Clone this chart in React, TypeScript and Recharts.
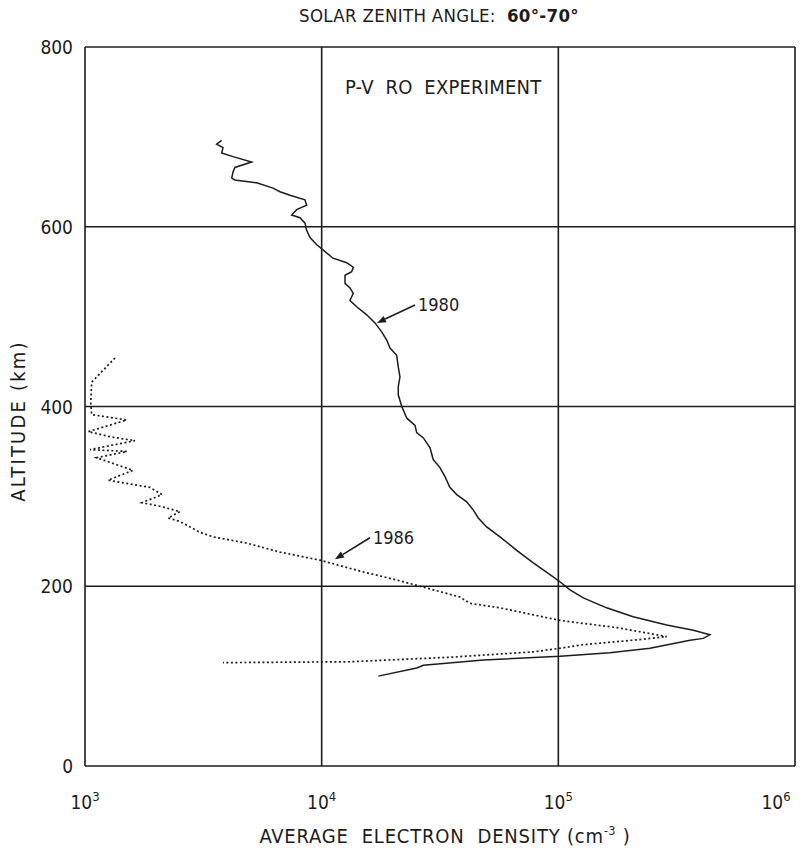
import React from 'react';
import { ScatterChart, Scatter, XAxis, YAxis, CartesianGrid, ReferenceLine } from 'recharts';

// 1980 profile: electron density (cm^-3) vs altitude (km)
const density1980 = [
  3780, 3600, 3830, 3780, 4220, 5060, 4300, 4220, 4170, 4300, 5310, 6230, 6670, 7350, 8500, 8640,
  7840, 7470, 8100, 8500, 8640, 8930, 9530, 10160, 11160, 12760, 13600, 13390, 12550, 12550, 13170,
  13600, 13170, 14060, 15500, 16800, 17930, 18830, 19440, 20750, 21070, 21420, 21070, 21070, 21800,
  22900, 24800, 25200, 26900, 28700, 29600, 31600, 33200, 34800, 37200, 41000, 43700, 45900, 49800,
  56700, 66700, 78400, 92200, 101600, 112000, 127500, 160000, 207000, 287000, 372000, 437000, 410000,
  360000, 244000, 165000, 101600, 48200, 26900, 25200, 17350,
];
const altitude1980 = [
  696, 692, 688, 682, 678, 672, 666, 661, 654, 652, 649, 643, 639, 635, 630, 624,
  619, 613, 610, 604, 596, 588, 580, 574, 565, 560, 555, 550, 546, 537, 532,
  526, 518, 511, 502, 493, 483, 474, 465, 457, 444, 433, 422, 413, 400,
  387, 379, 371, 365, 354, 341, 332, 322, 310, 302, 294, 285, 276, 266,
  255, 240, 226, 213, 205, 196, 187, 176, 166, 157, 151, 146, 142,
  140, 131, 126, 122, 118, 112, 109, 100,
];

// 1986 profile
const density1986 = [
  1339, 1067, 1057, 1067, 1500, 1032, 1297, 1626, 1050, 1505, 1120, 1300, 1595, 1251, 1882, 2115,
  1741, 2074, 2520, 2243, 2520, 3060, 3470, 4820, 6670, 9840, 14950, 20750, 25200, 38400, 42300,
  56700, 101600, 176400, 287000, 228000, 127500, 101600, 78400, 34800, 13170, 3830,
];
const altitude1986 = [
  454, 427, 404, 391, 385, 372, 366, 362, 352, 350, 343, 337, 329, 318, 310, 302,
  293, 289, 283, 276, 272, 260, 255, 248, 238, 229, 216, 207, 201, 188, 181,
  176, 162, 154, 144, 141, 135, 131, 127, 121, 116, 115,
];

const densityTicks = [1e3, 1e4, 1e5, 1e6];
const altitudeTicks = [0, 200, 400, 600, 800];

// arrow annotations: [label, start (density, alt), tip (density, alt)]
const arrows: [string, [number, number], [number, number]][] = [
  ['1980', [24800, 513], [17130, 493]],
  ['1986', [16000, 254], [11380, 230]],
];

const data1980 = density1980.map((n, i) => ({ n, alt: altitude1980[i] }));
const data1986 = density1986.map((n, i) => ({ n, alt: altitude1986[i] }));

const FONT = '"Liberation Sans Narrow", "DejaVu Sans Condensed", "Liberation Sans", Arial, sans-serif';
const INK = '#1c1c1c';

const XTick = ({ x, y, payload }: any) => {
  const exp = Math.round(Math.log10(payload.value));
  return (
    <text x={x} y={y + 35} textAnchor="middle" fill={INK} fontFamily={FONT} fontSize={19}>
      <tspan>10</tspan>
      <tspan dy={-8} fontSize={13}>{exp}</tspan>
    </text>
  );
};

const YTick = ({ x, y, payload }: any) => (
  <text x={x - 4} y={y} dy={7} textAnchor="end" fill={INK} fontFamily={FONT} fontSize={19}>
    {payload.value}
  </text>
);

const arrowShape = (label: string) => (props: any) => {
  const { x1, y1, x2, y2 } = props;
  const a = Math.atan2(y2 - y1, x2 - x1);
  const L = 9, W = 3.5;
  const bx = x2 - L * Math.cos(a), by = y2 - L * Math.sin(a);
  const px = -Math.sin(a) * W, py = Math.cos(a) * W;
  return (
    <g>
      <line x1={x1} y1={y1} x2={bx} y2={by} stroke={INK} strokeWidth={1.6} />
      <polygon points={`${x2},${y2} ${bx + px},${by + py} ${bx - px},${by - py}`} fill={INK} />
      <text x={x1 + 3} y={y1} dy={6} fill={INK} fontFamily={FONT} fontSize={18}>{label}</text>
    </g>
  );
};

const noDot = () => <g />;

export default function App() {
  return (
    <div style={{ position: 'absolute', left: 0, top: 0, width: 804, height: 848, background: '#fff', fontFamily: FONT, color: INK }}>
      <ScatterChart width={804} height={848} margin={{ top: 47, right: 9, bottom: 0, left: 0 }}>
        <CartesianGrid stroke={INK} strokeWidth={1.6} />
        <XAxis
          dataKey="n"
          type="number"
          scale="log"
          domain={[1e3, 1e6]}
          ticks={densityTicks}
          axisLine={false}
          tickLine={false}
          height={82}
          tick={<XTick />}
        />
        <YAxis
          dataKey="alt"
          type="number"
          domain={[0, 800]}
          ticks={altitudeTicks}
          axisLine={false}
          tickLine={false}
          width={85}
          tick={<YTick />}
        />
        <Scatter data={data1980} line={{ stroke: INK, strokeWidth: 1.5 }} lineType="joint" shape={noDot} isAnimationActive={false} />
        <Scatter data={data1986} line={{ stroke: INK, strokeWidth: 1.7, strokeDasharray: '2 2.5' }} lineType="joint" shape={noDot} isAnimationActive={false} />
        {arrows.map(([label, s, t]) => (
          <ReferenceLine
            key={label}
            segment={[{ x: s[0], y: s[1] }, { x: t[0], y: t[1] }]}
            shape={arrowShape(label)}
          />
        ))}
      </ScatterChart>

      <div style={{ position: 'absolute', left: 0, width: 804, top: 5, paddingLeft: 74, boxSizing: 'border-box', textAlign: 'center', fontSize: 18.5, letterSpacing: 0.3, whiteSpace: 'nowrap' }}>
        SOLAR ZENITH ANGLE:&nbsp; <b>60°-70°</b>
      </div>
      <div style={{ position: 'absolute', left: 345, top: 75, fontSize: 20, letterSpacing: 0.2, whiteSpace: 'nowrap' }}>
        P-V&nbsp; RO&nbsp; EXPERIMENT
      </div>
      <div style={{ position: 'absolute', left: 18, top: 421, transform: 'translate(-50%, -50%) rotate(-90deg)', fontSize: 20, letterSpacing: 2.2, whiteSpace: 'nowrap' }}>
        ALTITUDE (km)
      </div>
      <div style={{ position: 'absolute', left: 445, top: 836, transform: 'translate(-50%, -50%)', fontSize: 20, letterSpacing: 0.8, whiteSpace: 'nowrap', lineHeight: '20px' }}>
        AVERAGE&nbsp; ELECTRON&nbsp; DENSITY (cm<sup style={{ fontSize: 12, lineHeight: 0 }}>-3</sup> )
      </div>
    </div>
  );
}
